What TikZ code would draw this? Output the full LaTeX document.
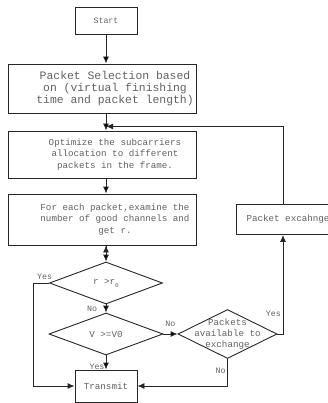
\documentclass[tikz,border=0pt]{standalone}
\usepackage{fontspec}
\setmainfont{Liberation Mono}
\usetikzlibrary{shapes.geometric, positioning, arrows.meta}
\definecolor{textgray}{gray}{0.38}

\tikzset{
  block/.style={rectangle, draw=black!85, line width=0.9pt, text=textgray, inner sep=0pt,
    font=\fontsize{9.2}{11.5}\selectfont},
  wide/.style={block, minimum width=188pt,
    execute at begin node={\hspace*{26pt}\begin{minipage}{162pt}\centering},
    execute at end node={\end{minipage}}},
  decision/.style={diamond, draw=black!85, line width=0.9pt, text=textgray, inner sep=0pt,
    font=\fontsize{9.2}{11}\selectfont},
  dtext/.style={text=textgray, align=center, inner sep=0pt, font=\fontsize{9.2}{11}\selectfont},
  lbl/.style={text=textgray, inner sep=0pt, font=\fontsize{8.3}{10}\selectfont},
  line/.style={draw=black!85, line width=0.9pt}
}

\begin{document}
\begin{tikzpicture}[x=1pt, y=1pt, on grid, >={Latex[length=7pt,width=6pt]}]
   \clip (0,0) rectangle (328,-403);

   \node[block, minimum width=62pt, minimum height=27pt, font=\fontsize{8.3}{10}\selectfont] (start) at (106,-20.5) {Start};
   \node[wide, minimum height=49pt, font=\fontsize{11.4}{12}\selectfont] (select) [below=68pt of start, xshift=-4pt]
     {Packet Selection based\\ on (virtual finishing\\ time and packet length)};
   \node[wide, minimum height=47pt] (opt) [below=66pt of select]
     {Optimize the subcarriers\\ allocation to different\\ packets in the frame.};
   \node[wide, minimum height=51pt] (each) [below=65pt of opt]
     {For each packet,examine the\\ number of good channels and\\ get r.};
   \node[block, minimum width=104pt, minimum height=30pt] (exch) [right=186pt of each] {Packet excahnge};

   \node[decision, minimum width=113pt, minimum height=42pt] (d1) [below=63.5pt of each, xshift=4pt]
     {r >r\raisebox{-3pt}{\fontsize{6}{6}\selectfont 0}};
   \node[decision, minimum width=114pt, minimum height=42pt] (d2) [below=51pt of d1] {V >=V0};
   \node[decision, minimum width=99pt, minimum height=49pt,
     label={[dtext]center:{Packets\\ available to\\ exchange}}] (d3) [right=121.5pt of d2] {};
   \node[block, minimum width=62pt, minimum height=32pt] (trans) [below=52pt of d2] {Transmit};

   % branch labels
   \node[lbl] (yes1) at ([shift={(-4.5,6)}]d1.west) {Yes};
   \node[lbl] (no1) at ([shift={(-14,-4)}]d1.south) {No};
   \node[lbl] (no2) at ([shift={(7,10)}]d2.east) {No};
   \node[lbl] (yes2) at ([shift={(-9,-11)}]d2.south) {Yes};
   \node[lbl] (yes3) at ([shift={(-4,20)}]d3.east) {Yes};
   \node[lbl] (no3) at ([shift={(-7,-12)}]d3.south) {No};

   \path (select.south -| start.south) ++(0,-13) coordinate (merge);

   \path[->, line]
    (start.south) edge (start.south |- select.north)
    (select.south -| start.south) edge (opt.north -| start.south)
    (opt.south -| start.south) edge (each.north -| start.south)
    (each.south -| d1.north) edge (d1.north)
    (d1) edge (d2)
    (d2) edge (trans)
         edge (d3);

   \draw[->, line] (d1.west) -- ++(-16,0) |- (trans.west);
   \draw[->, line] (d3.south) |- (trans.east);
   \draw[->, line] (d3.east) -| ([xshift=-5pt]exch.south);
   \draw[->, line] ([xshift=-5pt]exch.north) |- (merge);
\end{tikzpicture}
\end{document}
